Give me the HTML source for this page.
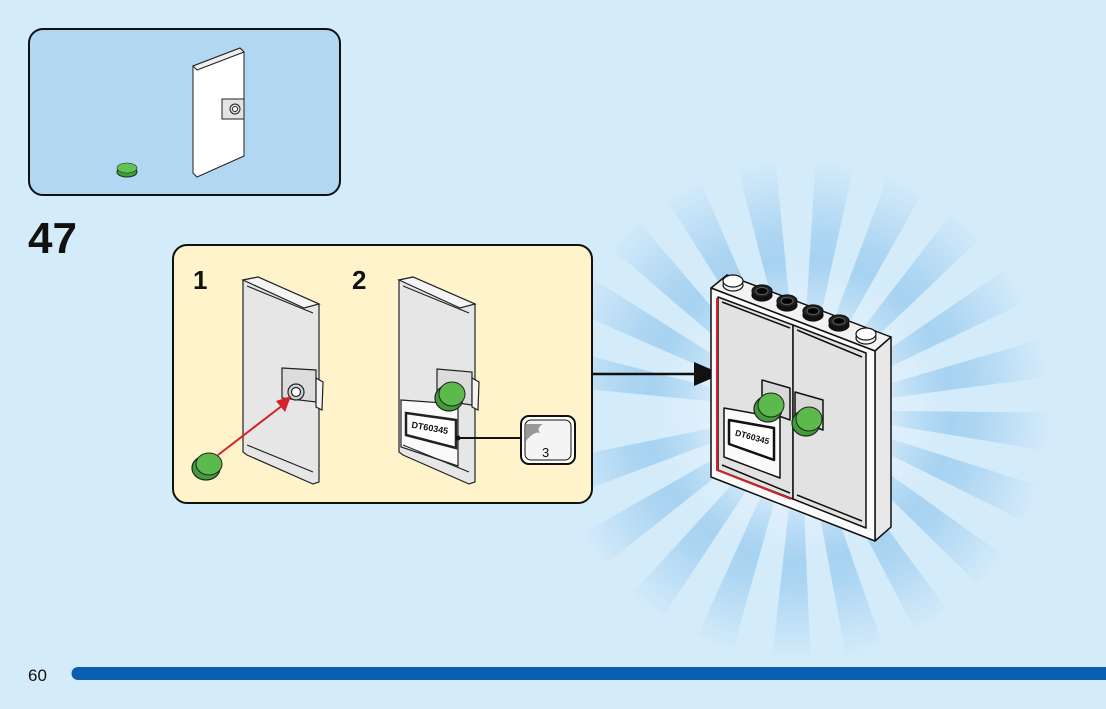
<!DOCTYPE html>
<html><head><meta charset="utf-8"><style>
html,body{margin:0;padding:0;background:#d4ebfa;}
svg{display:block}
text{font-family:"Liberation Sans",sans-serif}
</style></head><body>
<svg width="1106" height="709" viewBox="0 0 1106 709" xmlns="http://www.w3.org/2000/svg">
<defs>
<radialGradient id="mg" cx="0" cy="0" r="250" gradientUnits="userSpaceOnUse">
<stop offset="0" stop-color="#fff" stop-opacity="0.2"/>
<stop offset="0.45" stop-color="#fff" stop-opacity="0.75"/>
<stop offset="0.7" stop-color="#fff" stop-opacity="0.55"/>
<stop offset="1" stop-color="#fff" stop-opacity="0"/>
</radialGradient>
<mask id="m" maskUnits="userSpaceOnUse" x="-400" y="-400" width="800" height="800">
<circle cx="0" cy="0" r="260" fill="url(#mg)"/>
</mask>
<polygon id="ray" points="0,0 -20,-260 20,-260"/>
<radialGradient id="glow" cx="800" cy="410" r="150" gradientUnits="userSpaceOnUse">
<stop offset="0.5" stop-color="#e4f2fc" stop-opacity="0.9"/>
<stop offset="1" stop-color="#e4f2fc" stop-opacity="0"/>
</radialGradient>
</defs>
<rect width="1106" height="709" fill="#d4ebfa"/>
<!-- sunburst -->
<g transform="translate(800,410)" mask="url(#m)">
<g fill="#8cc4ec">
<use href="#ray" transform="rotate(-80)"/><use href="#ray" transform="rotate(-62)"/>
<use href="#ray" transform="rotate(-45)"/><use href="#ray" transform="rotate(-28)"/>
<use href="#ray" transform="rotate(-10)"/><use href="#ray" transform="rotate(8)"/>
<use href="#ray" transform="rotate(25)"/><use href="#ray" transform="rotate(42)"/>
<use href="#ray" transform="rotate(60)"/><use href="#ray" transform="rotate(78)"/>
<use href="#ray" transform="rotate(95)"/><use href="#ray" transform="rotate(112)"/>
<use href="#ray" transform="rotate(130)"/><use href="#ray" transform="rotate(148)"/>
<use href="#ray" transform="rotate(165)"/><use href="#ray" transform="rotate(182)"/>
<use href="#ray" transform="rotate(200)"/><use href="#ray" transform="rotate(218)"/>
<use href="#ray" transform="rotate(236)"/><use href="#ray" transform="rotate(254)"/>
</g>
</g>
<circle cx="800" cy="410" r="150" fill="url(#glow)"/>

<!-- parts box -->
<rect x="29" y="29" width="311" height="166" rx="14" fill="#b1d7f2" stroke="#111" stroke-width="2"/>
<g stroke="#222" stroke-width="1">
<polygon points="193,66 240,48 244,52 244,156 197,177 193,173" fill="#fff"/>
<polygon points="193,66 240,48 244,52 197,70" fill="#eee"/>
<rect x="222" y="99" width="22" height="20" fill="#e4e4e4"/>
<circle cx="235" cy="109" r="5" fill="#ddd"/>
<circle cx="235" cy="109" r="2.5" fill="#fff"/>
</g>
<ellipse cx="127" cy="172" rx="10" ry="5" fill="#3f9e3a" stroke="#222"/>
<ellipse cx="127" cy="168" rx="10" ry="5" fill="#63c256" stroke="#222" stroke-width="0.6"/>

<text x="28" y="253" font-size="44" font-weight="bold" fill="#111">47</text>

<!-- yellow sub-step box -->
<rect x="173" y="245" width="419" height="258" rx="14" fill="#fff3cc" stroke="#111" stroke-width="2"/>
<text x="193" y="289" font-size="26" font-weight="bold" fill="#111">1</text>
<text x="352" y="289" font-size="26" font-weight="bold" fill="#111">2</text>

<!-- door 1 -->
<g stroke="#222" stroke-width="1.2">
<polygon points="243,280 258,277 319,304 319,482 313,484 247,455 243,452" fill="#e6e6e6"/>
<polygon points="243,280 258,277 319,304 304,308" fill="#f4f4f4"/>
<line x1="247" y1="286" x2="313" y2="313"/>
<polygon points="282,368 316,370 316,402 282,398" fill="#dcdcdc"/>
<polygon points="316,378 323,382 322,410 316,407" fill="#f3f3f3"/>
<circle cx="296" cy="392" r="8" fill="#d0d0d0"/>
<circle cx="296" cy="392" r="4.5" fill="#fff"/>
<line x1="247" y1="445" x2="313" y2="472"/>
</g>
<line x1="218" y1="455" x2="283" y2="405" stroke="#d3222a" stroke-width="2"/>
<polygon points="291,396 276,401 285,412" fill="#d3222a"/>
<ellipse cx="206" cy="468" rx="14" ry="12" fill="#3f9e3a" stroke="#222" stroke-width="1.2"/>
<ellipse cx="209" cy="464" rx="13" ry="11" fill="#5cba4d" stroke="#222" stroke-width="1"/>

<!-- door 2 -->
<g stroke="#222" stroke-width="1.2">
<polygon points="399,280 413,277 475,304 475,482 469,484 403,455 399,452" fill="#e6e6e6"/>
<polygon points="399,280 413,277 475,304 460,308" fill="#f4f4f4"/>
<line x1="403" y1="286" x2="469" y2="313"/>
<polygon points="437,369 472,372 472,405 437,400" fill="#dcdcdc"/>
<polygon points="472,378 479,382 478,410 472,407" fill="#f3f3f3"/>
<polygon points="401,400 458,404 458,466 401,447" fill="#fafafa"/>
<polygon points="406,413 456,420 456,448 406,435" fill="#fff" stroke-width="2.5"/>
<line x1="403" y1="445" x2="469" y2="472"/>
</g>
<text x="411" y="431" font-size="9" font-weight="bold" fill="#111" transform="rotate(10 430 430)">DT60345</text>
<ellipse cx="449" cy="398" rx="14" ry="13" fill="#3f9e3a" stroke="#222" stroke-width="1.2"/>
<ellipse cx="452" cy="394" rx="13" ry="12" fill="#5cba4d" stroke="#222" stroke-width="1"/>
<line x1="458" y1="438" x2="521" y2="438" stroke="#111" stroke-width="2"/>
<circle cx="458" cy="438" r="2.5" fill="#111"/>
<rect x="521" y="416" width="54" height="48" rx="8" fill="#fff" stroke="#111" stroke-width="2"/>
<rect x="525" y="420" width="46" height="40" rx="6" fill="#f4f4f4" stroke="#111" stroke-width="1"/>
<path d="M526,441 L526,424 L543,424 Q536,428 540,433 Q534,431 526,441 Z" fill="#999"/>
<text x="542" y="457" font-size="13" fill="#111">3</text>

<!-- connector arrow -->
<line x1="592" y1="374" x2="700" y2="374" stroke="#111" stroke-width="2.5"/>
<polygon points="722,374 694,362 694,386" fill="#111"/>

<!-- result frame -->
<g stroke="#111" stroke-width="1.5" stroke-linejoin="round">
<polygon points="711,288 727,275 891,337 875,351" fill="#f2f2f2"/>
<polygon points="875,351 891,337 891,527 875,541" fill="#e8e8e8"/>
<polygon points="711,288 875,351 875,541 711,477" fill="#fafafa"/>
<polygon points="718,297 793,325 793,499 718,470" fill="#e2e2e2"/>
<polygon points="793,325 866,353 866,528 793,499" fill="#e2e2e2"/>
<polygon points="762,380 790,388 790,420 762,410" fill="#d8d8d8"/>
<polygon points="795,392 823,400 823,430 795,420" fill="#d8d8d8"/>
<polygon points="724,408 780,418 780,478 724,457" fill="#fafafa"/>
<polygon points="729,420 774,428 774,460 729,444" fill="#fff" stroke-width="2.5"/>
<line x1="722" y1="465" x2="790" y2="493"/>
<line x1="797" y1="495" x2="862" y2="521"/>
<line x1="722" y1="302" x2="790" y2="328"/>
<line x1="797" y1="330" x2="862" y2="357"/>
</g>
<path d="M717,298 L717,470 L791,499" fill="none" stroke="#d3222a" stroke-width="2"/>
<text x="734" y="440" font-size="8.5" font-weight="bold" fill="#111" transform="rotate(15 752 440)">DT60345</text>
<!-- studs -->
<g stroke="#111" stroke-width="1.2">
<ellipse cx="733" cy="285" rx="10" ry="6" fill="#f3f3f3"/><ellipse cx="733" cy="281" rx="10" ry="6" fill="#fff"/>
<ellipse cx="762" cy="295" rx="10" ry="6" fill="#111"/><ellipse cx="762" cy="291" rx="10" ry="6" fill="#222"/><ellipse cx="762" cy="291" rx="6" ry="3.5" fill="#000" stroke="#555"/>
<ellipse cx="787" cy="305" rx="10" ry="6" fill="#111"/><ellipse cx="787" cy="301" rx="10" ry="6" fill="#222"/><ellipse cx="787" cy="301" rx="6" ry="3.5" fill="#000" stroke="#555"/>
<ellipse cx="813" cy="315" rx="10" ry="6" fill="#111"/><ellipse cx="813" cy="311" rx="10" ry="6" fill="#222"/><ellipse cx="813" cy="311" rx="6" ry="3.5" fill="#000" stroke="#555"/>
<ellipse cx="839" cy="325" rx="10" ry="6" fill="#111"/><ellipse cx="839" cy="321" rx="10" ry="6" fill="#222"/><ellipse cx="839" cy="321" rx="6" ry="3.5" fill="#000" stroke="#555"/>
<ellipse cx="866" cy="338" rx="10" ry="6" fill="#f3f3f3"/><ellipse cx="866" cy="334" rx="10" ry="6" fill="#fff"/>
</g>
<ellipse cx="768" cy="409" rx="14" ry="13" fill="#3f9e3a" stroke="#222" stroke-width="1.2"/>
<ellipse cx="771" cy="405" rx="13" ry="12" fill="#5cba4d" stroke="#222" stroke-width="1"/>
<ellipse cx="806" cy="423" rx="14" ry="13" fill="#3f9e3a" stroke="#222" stroke-width="1.2"/>
<ellipse cx="809" cy="419" rx="13" ry="12" fill="#5cba4d" stroke="#222" stroke-width="1"/>

<!-- footer -->
<text x="28" y="681" font-size="17" fill="#111">60</text>
<path d="M78,667 L1106,667 L1106,680 L78,680 A6.5,6.5 0 0 1 78,667 Z" fill="#0b5fb0"/>
</svg>
</body></html>
